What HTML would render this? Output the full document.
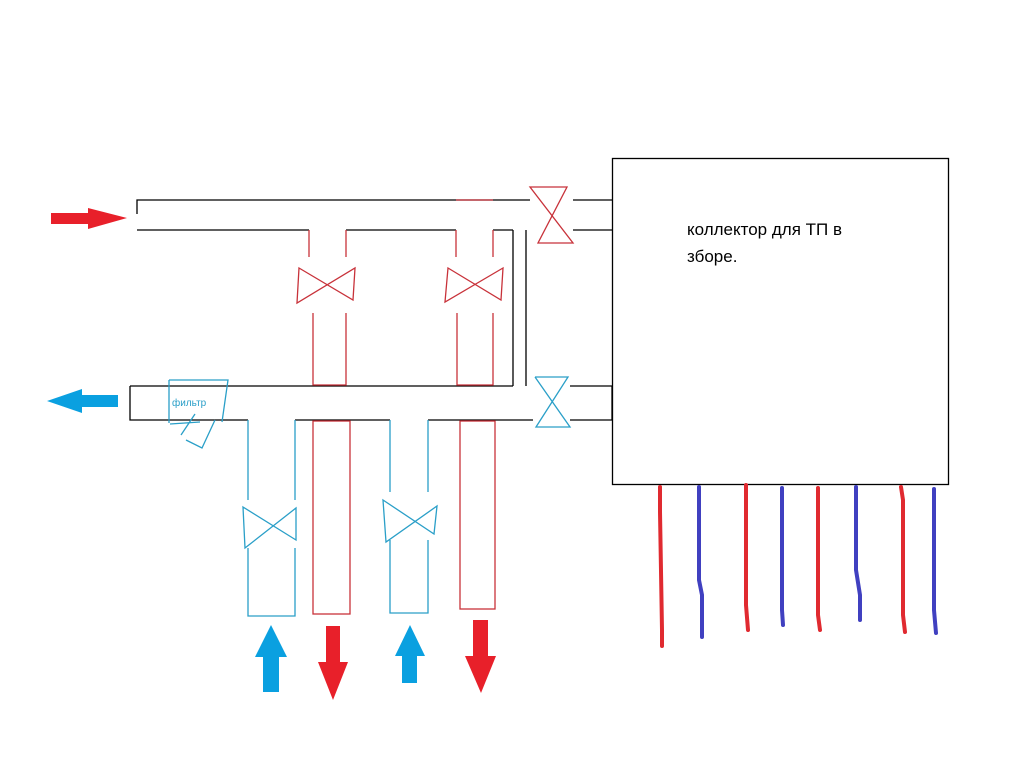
<!DOCTYPE html>
<html><head><meta charset="utf-8"><style>body{margin:0;background:#fff}svg{display:block}</style></head><body>
<svg width="1024" height="768" xmlns="http://www.w3.org/2000/svg" fill="none" stroke-width="1.3">
<!-- top pipe -->
<g stroke="#000">
<path d="M137 214V200H530M573 200H612M137 230H309M346 230H456M493 230H513M573 230H612M513 230V386M526 230V386"/>
<path d="M130 386H513M130 386V420H248M295 420H390M428 420H533M570 420H612M570 386H612M612 386V420"/>
</g>
<g stroke="#c8323a">
<path d="M456 200H493"/>
<path d="M309 230V257M346 230V257M313 313V385H346V313M456 230V257M493 230V257M457 313V385H493V313"/>
<path d="M299 268L353 300L355 268L297 303Z" />
<path d="M448 268L501 300L503 268L445 302Z"/>
<path d="M530 187L567 187L538 243L573 243Z"/>
<rect x="313" y="421" width="37" height="193"/>
<rect x="460" y="421" width="35" height="188"/>
</g>
<g stroke="#2a9fc8">
<path d="M248 420V500M295 420V500M248 548V616H295V548M390 420V492M428 420V492M390 540V613H428V540"/>
<path d="M243 507L296 540L296 508L245 548Z"/>
<path d="M383 500L434 534L437 506L386 542Z"/>
<path d="M535 377H568L536 427H570L535 377"/>
<path d="M169 380H228L222 422M169 380V423M170 424L200 422M181 435L195 414M186 440L202 448L215 420"/>
</g>
<text x="172" y="406" font-family="Liberation Sans, sans-serif" font-size="10" fill="#2a9fc8">фильтр</text>
<!-- side arrows -->
<path d="M51 213H88V208L127 218L88 229V224H51Z" fill="#e8202a"/>
<path d="M47 401L82 389V395H118V407H82V413Z" fill="#0aa0e0"/>
<!-- bottom arrows -->
<path d="M263 692V657H255L271 625L287 657H279V692Z" fill="#0aa0e0"/>
<path d="M326 626H340V662H348L333 700L318 662H326Z" fill="#e8202a"/>
<path d="M402 683V656H395L410 625L425 656H417V683Z" fill="#0aa0e0"/>
<path d="M473 620H488V656H496L481 693L465 656H473Z" fill="#e8202a"/>
<!-- box -->
<rect x="612.5" y="158.5" width="336" height="326" stroke="#000"/>
<text font-family="Liberation Sans, DejaVu Sans, sans-serif" font-size="17" fill="#000"><tspan x="687" y="235">коллектор для ТП в</tspan><tspan x="687" y="262">зборе.</tspan></text>
<g stroke-width="4" stroke-linecap="round">
<path d="M660 487V512L662 630V646" stroke="#e02a30"/>
<path d="M699 487V580L702 595V637" stroke="#4040c0"/>
<path d="M746 485V605L748 630" stroke="#e02a30"/>
<path d="M782 488V610L783 625" stroke="#4040c0"/>
<path d="M818 488V615L820 630" stroke="#e02a30"/>
<path d="M856 487V570L860 595V620" stroke="#4040c0"/>
<path d="M901 487L903 500V615L905 632" stroke="#e02a30"/>
<path d="M934 489V610L936 633" stroke="#4040c0"/>
</g>
</svg>
</body></html>
